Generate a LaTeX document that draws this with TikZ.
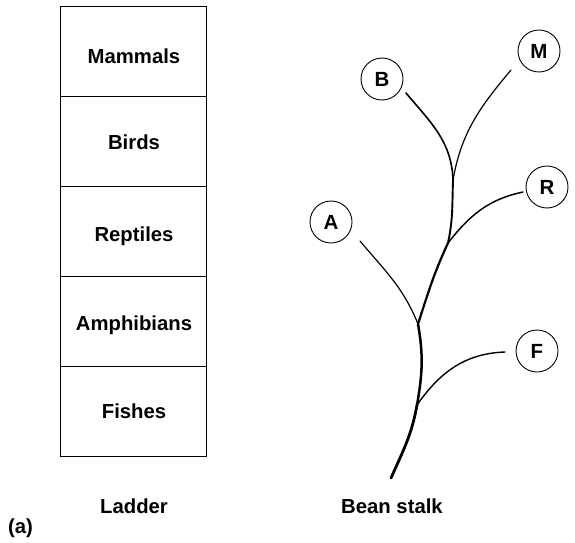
\documentclass[tikz,border=0pt]{standalone}
\usepackage{fontspec}
\setmainfont{Liberation Sans}
\begin{document}
\begin{tikzpicture}[x=1pt,y=1pt,
  lab/.style={font=\fontsize{20.3}{24}\selectfont\bfseries, inner sep=0pt},
  cell/.style={draw, line width=1.4pt, minimum width=146pt, minimum height=90pt, anchor=north west, inner sep=0pt},
  taxon/.style={draw, circle, line width=0.9pt, minimum size=42pt, inner sep=0pt, font=\fontsize{20.5}{23}\selectfont\bfseries},
  stem/.style={line width=2.3pt, line cap=round},
  branch/.style={line width=1.2pt, line cap=round}]
\useasboundingbox (0,0) rectangle (575,542);
% ladder
\node[cell] (c1) at (60,536) {};
\node[cell] (c2) at (60,446) {};
\node[cell] (c3) at (60,356) {};
\node[cell] (c4) at (60,266) {};
\node[cell] (c5) at (60,176) {};
\node[lab, anchor=base] (t1) at (134,478) {Mammals};
\node[lab, anchor=base] (t2) at (134,392) {Birds};
\node[lab, anchor=base] (t3) at (134,301) {Reptiles};
\node[lab, anchor=base] (t4) at (134,212) {Amphibians};
\node[lab, anchor=base] (t5) at (134,124) {Fishes};
\node[lab, anchor=base] (ladder) at (134,29) {Ladder};
\node[lab, anchor=base west] (a) at (8,9) {(a)};
\node[lab, anchor=base] (bean) at (392,29) {Bean stalk};
% circles
\node[taxon] (B) at (382,463) {B};
\node[taxon] (M) at (539,491) {M};
\node[taxon] (R) at (547,355) {R};
\node[taxon] (A) at (331,320) {A};
\node[taxon] (F) at (537,191) {F};
% stalk points
\coordinate (P0) at (391,64);
\coordinate (JF) at (417,137);
\coordinate (JA) at (418,218);
\coordinate (JR) at (448,299);
\coordinate (JBM) at (453,362);
\coordinate (Be) at (406,449);
\coordinate (Me) at (511,472);
\coordinate (Re) at (523,350);
\coordinate (Ae) at (360,301);
\coordinate (Fe) at (505,190);
% main stem
\draw[stem, line width=2.8pt] (P0) to[out=66,in=-100] (JF);
\draw[stem, line width=2.5pt] (JF) to[out=80,in=-80] (JA);
\draw[stem, line width=2.2pt] (JA) to[out=72,in=-115] (JR);
\draw[stem, line width=1.9pt] (JR) to[out=78,in=-92] (JBM);
\draw[branch, line width=1.6pt] (JBM) to[out=92,in=-50] (Be);
% branches
\draw[branch] (JBM) to[out=80,in=-130] (Me);
\draw[branch, line width=1.5pt] (JR) to[out=52,in=-168] (Re);
\draw[branch] (Ae) to[out=-50,in=112] (JA);
\draw[branch, line width=1.4pt] (JF) to[out=55,in=-178] (Fe);
\end{tikzpicture}
\end{document}
